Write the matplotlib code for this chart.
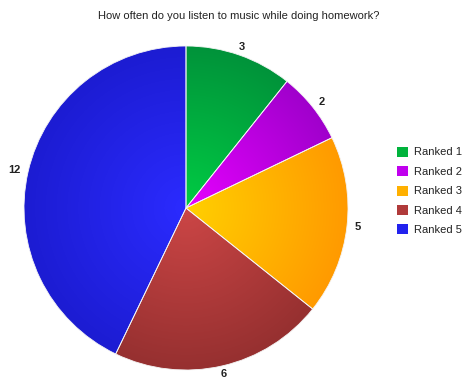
import numpy as np
import matplotlib
matplotlib.use('Agg')
import matplotlib.pyplot as plt
from matplotlib.colors import to_rgb
from matplotlib.patches import Patch

plt.rcParams['font.family'] = ['Liberation Sans', 'DejaVu Sans']

labels = ['Ranked 1', 'Ranked 2', 'Ranked 3', 'Ranked 4', 'Ranked 5']
counts = [3, 2, 5, 6, 12]
# inner / outer shade of each slice
inner = ['#00cc44', '#e600ff', '#ffd000', '#cc4646', '#2b2bff']
outer = ['#00933a', '#a000cc', '#ff9a00', '#963030', '#1c1cd2']
legend_col = ['#00b33c', '#c000ee', '#ffb000', '#b03a3a', '#2222ee']

W, H = 466, 383
fig = plt.figure(figsize=(W / 100, H / 100), dpi=100)
ax = fig.add_axes([0, 0, 1, 1])

cx, cy, R = 186, H - 208, 162
wedges, texts = ax.pie(counts, labels=[str(c) for c in counts], colors=outer,
                       startangle=90, counterclock=False,
                       center=(cx, cy), radius=R, labeldistance=1.05,
                       frame=True,
                       wedgeprops=dict(edgecolor='#f4f4f4', linewidth=0.6),
                       textprops=dict(fontsize=8, fontweight='bold', color='#222222'))

# pie() aligns by absolute x, so redo alignment relative to the centre
for txt in texts:
    dx = txt.get_position()[0] - cx
    if dx > 0.4 * R:
        txt.set_ha('left')
    elif dx < -0.4 * R:
        txt.set_ha('right')
    else:
        txt.set_ha('center')

# radial shading inside each wedge
n = 400
xs = np.linspace(cx - R, cx + R, n)
ys = np.linspace(cy - R, cy + R, n)
X, Y = np.meshgrid(xs, ys)
t = np.clip(np.hypot(X - cx, Y - cy) / R, 0, 1)[..., None]
for w, c0, c1 in zip(wedges, inner, outer):
    a = np.array(to_rgb(c0))
    b = np.array(to_rgb(c1))
    img = a * (1 - t) + b * t
    im = ax.imshow(img, extent=(cx - R, cx + R, cy - R, cy + R), origin='lower',
                   interpolation='bilinear', zorder=w.get_zorder() + 0.1)
    im.set_clip_path(w)
    w.set_zorder(w.get_zorder() + 0.2)
    w.set_facecolor('none')

ax.set_xlim(0, W)
ax.set_ylim(0, H)
ax.set_aspect('auto')
ax.axis('off')

fig.text(239 / W, 1 - 16 / H, 'How often do you listen to music while doing homework?',
         ha='center', va='center', fontsize=8, color='#222222')

handles = [Patch(facecolor=c, edgecolor='none') for c in legend_col]
ax.legend(handles, labels, loc='center left', bbox_to_anchor=(397 / W, 1 - 191 / H),
          frameon=False, fontsize=8, handlelength=1.0, handleheight=1.0,
          handletextpad=0.55, labelspacing=0.78, labelcolor='#222222',
          borderaxespad=0, borderpad=0)

fig.savefig('out.png', dpi=100)
